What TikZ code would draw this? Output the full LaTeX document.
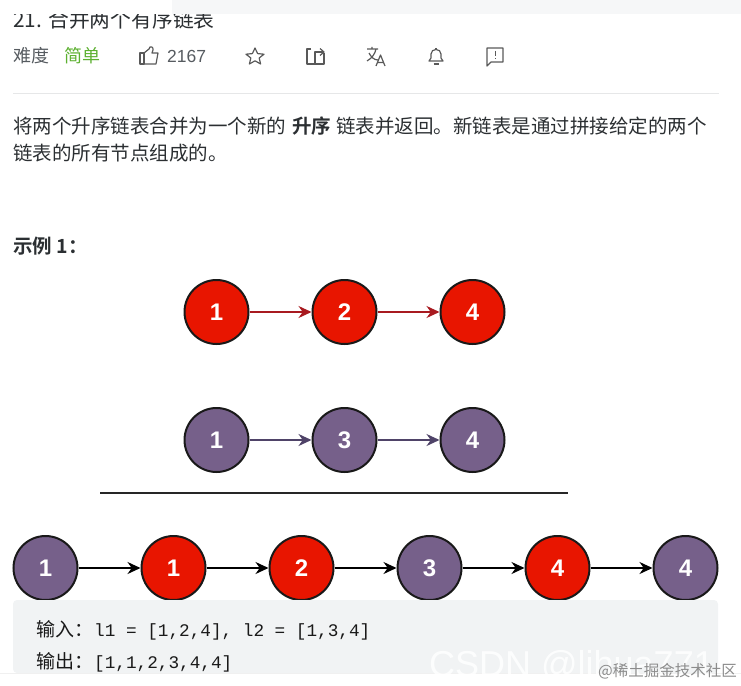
\documentclass[tikz,border=0pt]{standalone}
\usepackage{fontspec}
\setmainfont{Liberation Sans}
\setmonofont{Liberation Mono}
\newfontfamily\cjk{Noto Sans CJK SC}
\newfontfamily\cjkbold{Noto Sans CJK SC Bold}
\usetikzlibrary{arrows.meta,positioning}
\definecolor{listred}{HTML}{E81500}
\definecolor{listpurple}{HTML}{76608A}
\definecolor{redline}{HTML}{A81A20}
\definecolor{purpleline}{HTML}{4F4368}
\definecolor{bodytext}{HTML}{2B2F32}
\definecolor{greytext}{HTML}{565B60}
\definecolor{easygreen}{HTML}{5CB030}
\definecolor{codebg}{HTML}{F1F3F4}
\definecolor{topbar}{HTML}{F6F7F8}
\definecolor{rulegrey}{HTML}{E6E7E8}
\begin{document}
\begin{tikzpicture}[x=1pt,y=-1pt,
  redball/.style={circle,draw=black!90,line width=2pt,fill=listred,text=white,
    minimum size=64pt,inner sep=0pt,font=\fontsize{24}{24}\selectfont\bfseries},
  purpleball/.style={redball,fill=listpurple},
  body/.style={anchor=base west,inner sep=0pt,text=bodytext,font=\fontsize{19.5}{24}\cjk},
  info/.style={anchor=base west,inner sep=0pt,text=greytext,font=\fontsize{18}{20}\cjk},
  codeline/.style={anchor=base west,inner sep=0pt,text=black!90,font=\fontsize{17.7}{20}\ttfamily},
  icon/.style={draw=black!65,line width=1.2pt,line join=round},
  link/.style={-{Stealth[length=13pt,width=12pt]},line width=1.6pt},
  redlink/.style={link,draw=redline},
  purplelink/.style={link,draw=purpleline},
  blacklink/.style={link,draw=black}]
\useasboundingbox (0,0) rectangle (741,685);
% header
\node[body,text=bodytext,font=\fontsize{20.8}{24}\cjk] (title) at (13,28) {21. 合并两个有序链表};
\fill[white] (0,-1) rectangle (172,14);
\fill[topbar] (172,0) rectangle (741,14);
\node[info] (level) at (13,63) {难度};
\node[info,text=easygreen] (easy) at (64,63) {简单};
\node[info,font=\fontsize{17.5}{20}\selectfont] (likes) at (167,63) {2167};
% toolbar icons
\draw[icon] (140,53) rectangle (144,64);
\draw[icon] (144,53) -- (149,49) -- (150,47) .. controls (153,46) and (154,49) .. (152,53)
  -- (158,53) -- (156,64) -- (144,64);
\draw[icon] (255,48) -- (257.6,53.6) -- (264,54.2) -- (259.2,58) -- (260.6,64)
  -- (255,60.8) -- (249.4,64) -- (250.8,58) -- (246,54.2) -- (252.4,53.6) -- cycle;
\draw[icon] (311,49) -- (307,49) -- (307,64) -- (324,64) -- (324,53);
\draw[icon] (315,64) -- (315,52) -- (323,52);
\draw[icon] (320,48.5) -- (324,52) -- (320,55.5);
\draw[icon] (367,49) -- (378,49) (372,47) -- (372,49) (376,49) .. controls (375,54) and (372,58) .. (367,61)
  (369,53) .. controls (371,57) and (374,60) .. (378,60);
\draw[icon] (376,66) -- (380.5,55) -- (385,66) (377.5,62.5) -- (383.5,62.5);
\draw[icon] (429,61) -- (431,58) -- (431,54) .. controls (431,48) and (441,48) .. (441,54)
  -- (441,58) -- (443,61) -- cycle;
\draw[icon] (436,48) -- (436,50) (433.5,64) -- (438.5,64);
\draw[icon] (487,48) -- (503,48) -- (503,62) -- (491,62) -- (487,66) -- cycle;
\draw[icon] (495.5,51) -- (495.5,56) (495.5,58) -- (495.5,59.5);
\draw[rulegrey] (13,93) -- (719,93);
% description
\node[body] (desc) at (13,133) {将两个升序链表合并为一个新的\hspace{6pt}{\cjkbold 升序}\hspace{5pt}链表并返回。新链表是通过拼接给定的两个};
\node[body] (desctwo) at (13,160) {链表的所有节点组成的。};
\node[body,font=\fontsize{19.5}{20}\cjkbold] (example) at (13,253) {示例 1：};
% the two input lists
\node[redball] (aone) at (216.5,312) {1};
\node[redball] (atwo) at (344.5,312) {2};
\node[redball] (afour) at (472.5,312) {4};
\node[purpleball] (bone) at (216.5,440) {1};
\node[purpleball] (bthree) at (344.5,440) {3};
\node[purpleball] (bfour) at (472.5,440) {4};
\draw[redlink] (aone) -- (atwo);
\draw[redlink] (atwo) -- (afour);
\draw[purplelink] (bone) -- (bthree);
\draw[purplelink] (bthree) -- (bfour);
\coordinate (barleft) at (100,493);
\coordinate (barright) at (568,493);
\draw[line width=2.2pt,black!85] (barleft) -- (barright);
% the merged list
\node[purpleball] (cone) at (45.5,568) {1};
\node[redball] (ctwo) at (173.5,568) {1};
\node[redball] (cthree) at (301.5,568) {2};
\node[purpleball] (cfour) at (429.5,568) {3};
\node[redball] (cfive) at (557.5,568) {4};
\node[purpleball] (csix) at (685.5,568) {4};
\foreach \from/\to in {cone/ctwo,ctwo/cthree,cthree/cfour,cfour/cfive,cfive/csix}
  \draw[blacklink] (\from) -- (\to);
% code block
\fill[codebg,rounded corners=4pt] (13,600) rectangle (718,673);
\draw[black!6] (0,673) -- (741,673);
\node[codeline] (input) at (36,636) {{\cjk\fontsize{19}{20}\selectfont 输入：}\hspace{1pt}l1 = [1,2,4], l2 = [1,3,4]};
\node[codeline] (output) at (36,668) {{\cjk\fontsize{19}{20}\selectfont 输出：}\hspace{1pt}[1,1,2,3,4,4]};
\node[anchor=base west,inner sep=0pt,text=white,text opacity=.85,font=\fontsize{36}{36}\selectfont] (mark) at (429,676) {CSDN @lihua771};
\node[anchor=base east,inner sep=0pt,text=black!45,font=\fontsize{15.5}{15}\cjk] (markb) at (737,676) {@稀土掘金技术社区};
\end{tikzpicture}
\end{document}
